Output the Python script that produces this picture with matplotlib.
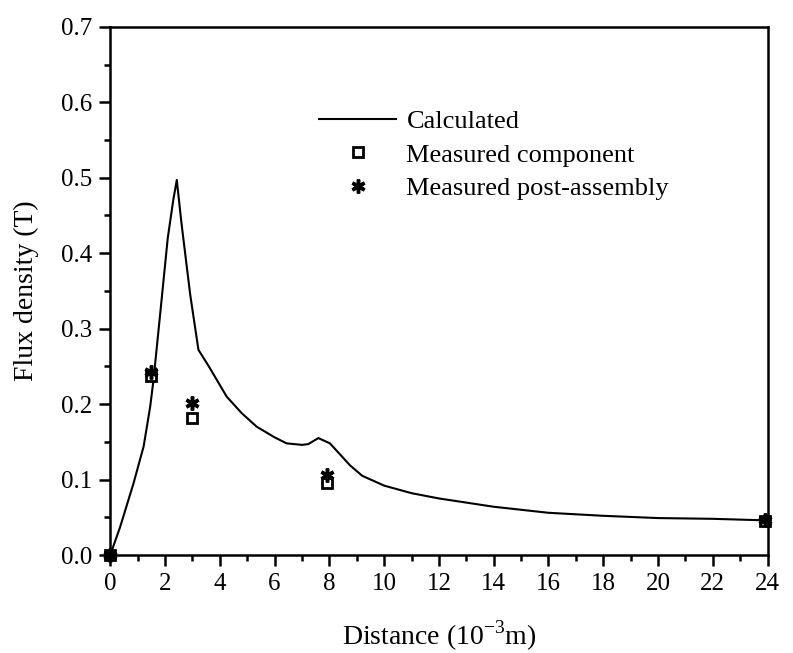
import matplotlib
matplotlib.use("Agg")
import matplotlib.pyplot as plt
from matplotlib.ticker import MultipleLocator

plt.rcParams['font.family'] = ['Liberation Serif', 'DejaVu Serif']
plt.rcParams['mathtext.fontset'] = 'custom'
plt.rcParams['mathtext.rm'] = 'Liberation Serif'

# calculated curve
calc_x = [0, 0.36, 0.85, 1.22, 1.46, 1.58, 1.88, 2.1, 2.3, 2.43, 2.6, 2.92, 3.22,
          3.6, 4.25, 4.8, 5.35, 6.0, 6.44, 7.0, 7.23, 7.6, 8.02, 8.4, 8.75,
          9.2, 10, 11, 12, 14, 16, 18, 20, 22, 23.9]
calc_y = [0, 0.037, 0.095, 0.144, 0.197, 0.232, 0.34, 0.42, 0.47, 0.497, 0.44, 0.345, 0.272,
          0.25, 0.21, 0.188, 0.17, 0.156, 0.148, 0.146, 0.147, 0.155, 0.148, 0.133, 0.119,
          0.105, 0.092, 0.082, 0.075, 0.064, 0.056, 0.052, 0.049, 0.048, 0.046]

# measurements
meas_x = [0, 1.5, 3.0, 7.9, 23.9]
comp_y = [0.0, 0.237, 0.182, 0.095, 0.045]
post_y = [0.0, 0.243, 0.201, 0.106, 0.047]

fig, ax = plt.subplots(figsize=(7.93, 6.53), dpi=100)
fig.subplots_adjust(left=0.139, right=0.968, top=0.959, bottom=0.15)

ax.plot(calc_x, calc_y, color='black', lw=1.5, label='Calculated')
ax.plot(meas_x, comp_y, ls='none', marker='s', ms=7, mfc='white', mec='black', mew=2,
        label='Measured component', clip_on=False)
ax.plot(meas_x, post_y, ls='none', marker=(6, 2, 0), ms=10, color='black', mew=2.5,
        label='Measured post-assembly', clip_on=False)

ax.set_xlim(0, 24)
ax.set_ylim(0, 0.7)
ax.xaxis.set_major_locator(MultipleLocator(2))
ax.xaxis.set_minor_locator(MultipleLocator(1))
ax.yaxis.set_major_locator(MultipleLocator(0.1))
ax.yaxis.set_minor_locator(MultipleLocator(0.05))
ax.yaxis.set_major_formatter(lambda v, p: f"{v:.1f}")

ax.tick_params(which='both', direction='out', width=1.8, labelsize=18, top=False, right=False)
ax.tick_params(which='major', length=8, pad=5)
ax.tick_params(which='minor', length=4.5)
for s in ax.spines.values():
    s.set_linewidth(1.8)

ax.set_xlabel('Distance (10$^{\\mathregular{-3}}$m)', fontsize=20, labelpad=17)
ax.set_ylabel('Flux density (T)', fontsize=20, labelpad=16)

ax.legend(loc='upper left', bbox_to_anchor=(0.282, 0.888), frameon=False, fontsize=19,
          handlelength=2.9, handletextpad=0.4, labelspacing=0.38)

fig.savefig('out.png', dpi=100)
